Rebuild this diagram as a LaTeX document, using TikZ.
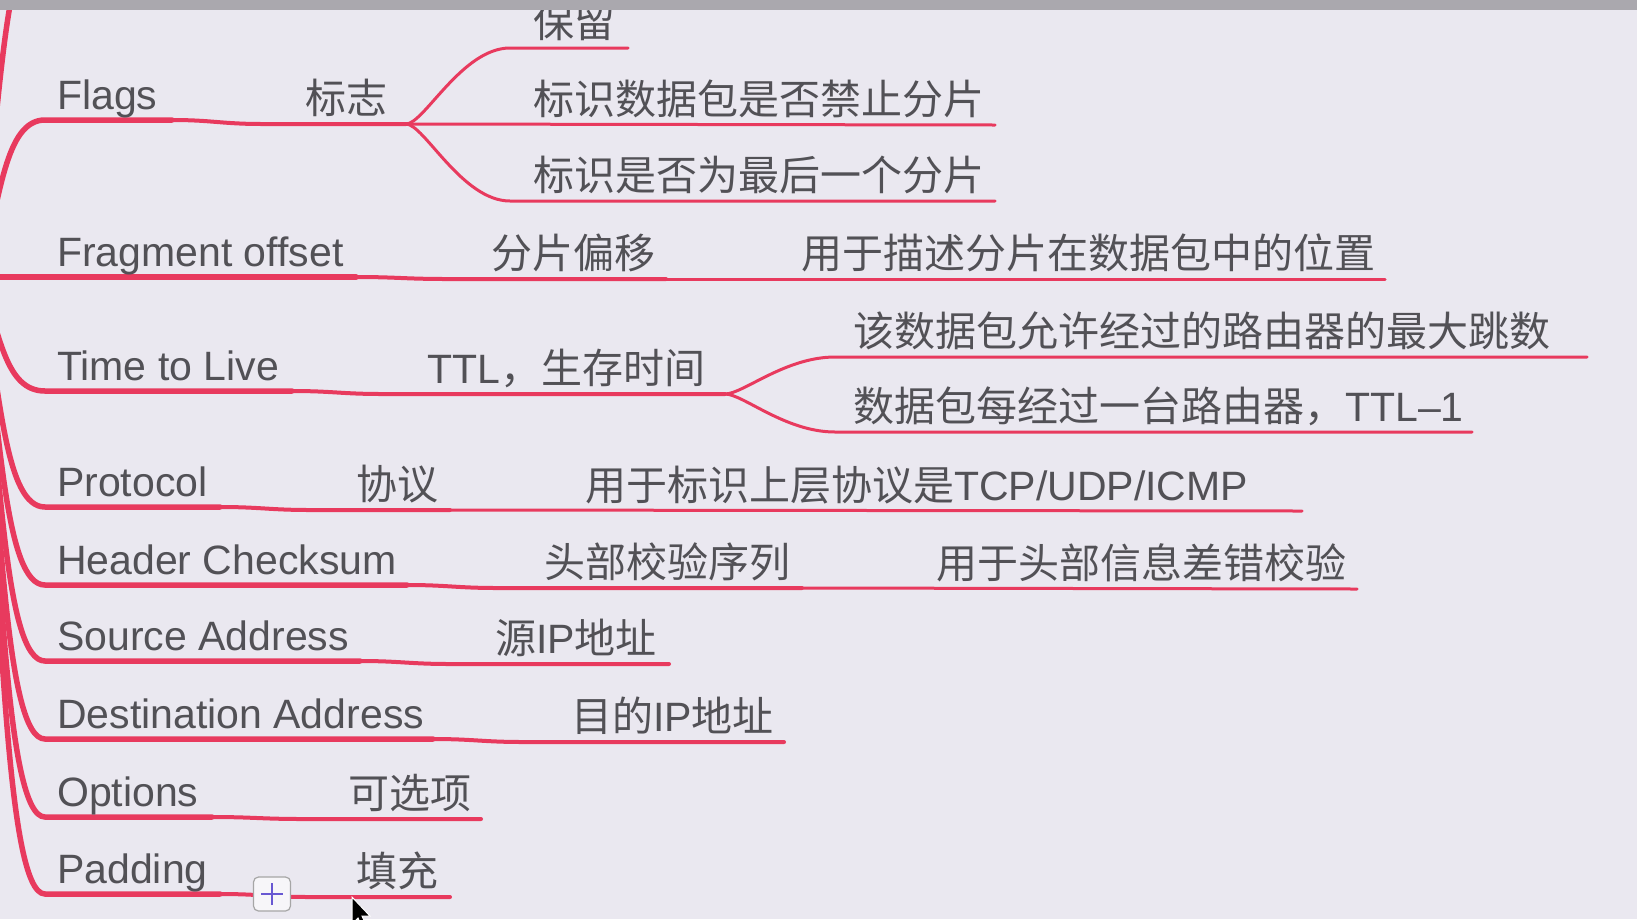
\documentclass[tikz,border=0pt]{standalone}
\usepackage{fontspec}
\setmainfont{Liberation Sans}
\newfontfamily\cjk{Noto Sans CJK SC}
\definecolor{mapbg}{RGB}{234,232,240}
\definecolor{branchred}{RGB}{232,58,94}
\definecolor{labelgray}{RGB}{82,81,86}
\definecolor{barbg}{RGB}{170,168,174}
\definecolor{plusviolet}{RGB}{104,88,210}

\begin{document}
\begin{tikzpicture}[x=1pt, y=-1pt,
  topic/.style={anchor=base west, inner sep=0pt, text=labelgray, font=\fontsize{41}{49}\selectfont},
  main/.style={draw=branchred, line width=5.5pt, line cap=round},
  sub/.style={draw=branchred, line width=4pt, line cap=round},
  leaf/.style={draw=branchred, line width=3pt, line cap=round},
  addbtn/.style={draw=gray!70, fill=white!60!mapbg, rounded corners=5pt, line width=1.2pt,
    minimum width=37pt, minimum height=34pt, inner sep=0pt},
]
  % Frame
  \useasboundingbox (0,0) rectangle (1637,919);
  \clip (0,0) rectangle (1637,919);
  \fill[mapbg] (0,0) rectangle (1637,919);

  % Root (off the left edge)
  \coordinate (root) at (-20,277);

  % Branch to the topic above the frame
  \coordinate (top-s) at (45,-70);
  \draw[main] (root) .. controls (0,103) and (5,-70) .. (top-s) -- ++(250,0);

  % Fields: name / y / end x / label / sub y / sub end x / sub text x / sub label
  \foreach \nm/\ly/\ex/\lab/\ky/\kx/\tx/\cn in {
      flags/120/172/Flags/124/406/305/{\cjk 标志},
      frag/277/356/Fragment offset/279/666/491/{\cjk 分片偏移},
      ttl/391/292/Time to Live/394/725/427/{TTL{\cjk ，生存时间}},
      proto/507/220/Protocol/510/450/356/{\cjk 协议},
      csum/585/407/Header Checksum/588/802/544/{\cjk 头部校验序列},
      src/661/360/Source Address/664/669/495/{{\cjk 源}IP{\cjk 地址}},
      dst/739/433/Destination Address/742/784/571/{{\cjk 目的}IP{\cjk 地址}},
      opt/817/212/Options/819/481/348/{\cjk 可选项},
      pad/894/220/Padding/897/450/356/{\cjk 填充}} {
    \coordinate (\nm-s) at (45,\ly);
    \coordinate (\nm-e) at (\ex,\ly);
    \coordinate (\nm-j) at (\ex+90,\ky);
    \coordinate (\nm-k) at (\kx,\ky);
    \draw[main] (root) .. controls (0,{(277+\ly)/2}) and (5,\ly) .. (\nm-s) -- (\nm-e);
    \draw[sub] (\nm-e) .. controls +(40,0) and +(-40,0) .. (\nm-j) -- (\nm-k);
    \node[topic] (\nm) at (57,\ly-11) {\lab};
    \node[topic] (\nm-cn) at (\tx,\ky-11) {\cn};
  }

  % Flags: three leaves
  \coordinate (resv-s) at (510,48);
  \coordinate (resv-e) at (628,48);
  \coordinate (df-e) at (995,125);
  \coordinate (mf-s) at (510,201);
  \coordinate (mf-e) at (995,201);
  \draw[leaf] (flags-k) .. controls +(18,0) and +(-48,0) .. (resv-s) -- (resv-e);
  \draw[leaf] (flags-k) -- (df-e);
  \draw[leaf] (flags-k) .. controls +(18,0) and +(-48,0) .. (mf-s) -- (mf-e);
  \node[topic] (resv) at (533,37) {\cjk 保留};
  \node[topic] (df) at (533,114) {\cjk 标识数据包是否禁止分片};
  \node[topic] (mf) at (533,190) {\cjk 标识是否为最后一个分片};

  % Fragment offset leaf
  \coordinate (pos-e) at (1385,279);
  \draw[leaf] (frag-k) -- (pos-e);
  \node[topic] (pos) at (801,268) {\cjk 用于描述分片在数据包中的位置};

  % Time to Live: two leaves
  \coordinate (hop-s) at (835,357);
  \coordinate (hop-e) at (1587,357);
  \coordinate (dec-s) at (835,432);
  \coordinate (dec-e) at (1472,432);
  \draw[leaf] (ttl-k) .. controls +(18,0) and +(-50,0) .. (hop-s) -- (hop-e);
  \draw[leaf] (ttl-k) .. controls +(18,0) and +(-50,0) .. (dec-s) -- (dec-e);
  \node[topic] (hop) at (853,346) {\cjk 该数据包允许经过的路由器的最大跳数};
  \node[topic] (dec) at (853,421) {{\cjk 数据包每经过一台路由器，}TTL--1};

  % Protocol leaf
  \coordinate (upper-e) at (1302,511);
  \draw[leaf] (proto-k) -- (upper-e);
  \node[topic] (upper) at (585,500) {{\cjk 用于标识上层协议是}TCP/UDP/ICMP};

  % Header Checksum leaf
  \coordinate (chk-e) at (1357,589);
  \draw[leaf] (csum-k) -- (chk-e);
  \node[topic] (chk) at (936,578) {\cjk 用于头部信息差错校验};

  % Add button and pointer
  \node[addbtn] (plus) at (272,894) {};
  \draw[plusviolet, line width=2.4pt] ([xshift=-11pt]plus.center) -- ([xshift=11pt]plus.center);
  \draw[plusviolet, line width=2.4pt] ([yshift=-11pt]plus.center) -- ([yshift=11pt]plus.center);
  \fill[black, draw=white, line width=1pt] (352,897) -- (352,924) -- (358,918) -- (363,929)
    -- (367,927) -- (362,916) -- (370,916) -- cycle;

  % Window bar
  \fill[barbg] (0,0) rectangle (1637,10);
\end{tikzpicture}
\end{document}
